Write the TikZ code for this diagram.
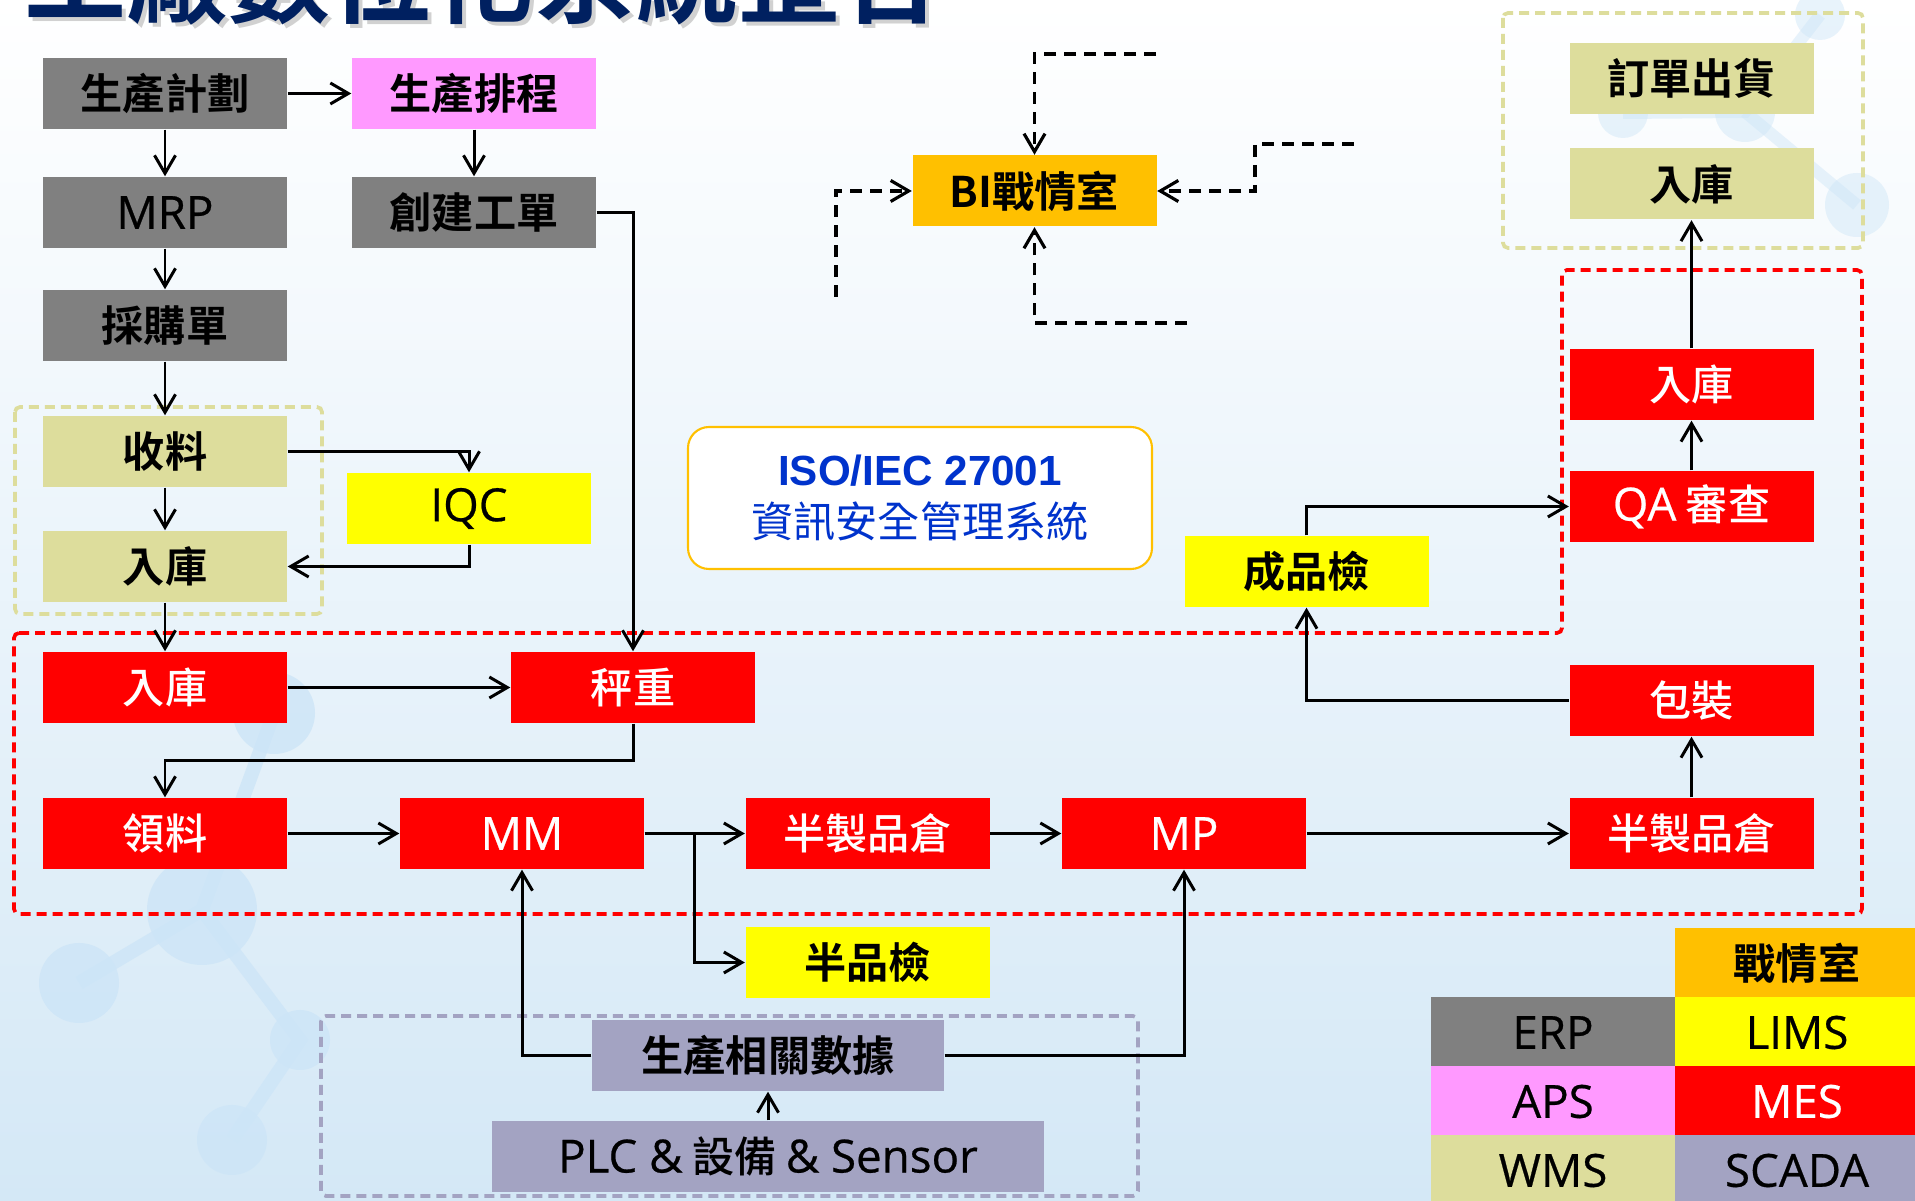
\documentclass[tikz,border=0pt]{standalone}
\usepackage{fontspec}
\usepackage{xcolor}
\setmainfont{Noto Sans CJK TC}[UprightFont={* Medium}, BoldFont={* Bold}]
\newfontfamily\isofont{Liberation Sans}
\newfontfamily\isocjk{Noto Sans CJK TC}
\newfontfamily\engfont{Open Sans}[FakeBold=0.5]
\newcommand{\eng}[1]{{\engfont\fontsize{13}{15}\selectfont #1}}
\usetikzlibrary{arrows.meta}

\definecolor{erpgray}{RGB}{128,128,128}
\definecolor{apspink}{RGB}{255,153,255}
\definecolor{wmskhaki}{RGB}{221,221,156}
\definecolor{limsyellow}{RGB}{255,255,0}
\definecolor{mesred}{RGB}{255,0,0}
\definecolor{biorange}{RGB}{255,192,0}
\definecolor{scadalav}{RGB}{163,163,194}
\definecolor{titlenavy}{RGB}{0,32,96}
\definecolor{isoblue}{RGB}{0,51,204}
\definecolor{bgblue}{RGB}{212,232,246}
\definecolor{molblue}{RGB}{205,229,247}

\begin{document}
\begin{tikzpicture}[
    x=0.1mm, y=-0.1mm,
    >={Straight Barb[length=1.8mm,width=2.1mm]},
    every node/.style={font=\fontsize{12}{15}\selectfont},
    box/.style={minimum width=24.4mm, minimum height=7.1mm, inner sep=0pt, align=center},
    erp/.style={box, fill=erpgray},
    aps/.style={box, fill=apspink},
    wms/.style={box, fill=wmskhaki},
    lims/.style={box, fill=limsyellow},
    mes/.style={box, fill=mesred, text=white},
    scada/.style={box, fill=scadalav},
    bi/.style={box, fill=biorange},
    flow/.style={->, line width=0.85pt},
    bilink/.style={->, line width=0.9pt, dash pattern=on 1.2mm off 0.8mm},
    frame/.style={line width=1.05pt, dash pattern=on 1mm off 0.6mm, rounded corners=0.5mm}
]
\useasboundingbox (0,0) rectangle (1915,1201);
\fill[top color=white, middle color=white, bottom color=bgblue] (0,0) rectangle (1915,1201);

% faint molecules in the background
\begin{scope}[opacity=0.8]
\draw[molblue, line width=1.4mm] (274,713) -- (202,910) -- (79,983);
\draw[molblue, line width=1.4mm] (202,910) -- (300,1040) -- (232,1140);
\foreach \cx/\cy/\r in {274/713/4.1, 202/910/5.5, 79/983/4, 300/1040/3, 232/1140/3.5}
  \fill[molblue] (\cx,\cy) circle (\r mm);
\end{scope}
\begin{scope}[opacity=0.45]
\draw[molblue, line width=1.2mm] (1623,113) -- (1745,112) -- (1820,15);
\draw[molblue, line width=1.2mm] (1745,112) -- (1857,205);
\foreach \cx/\cy/\r in {1820/15/2.5, 1745/112/3, 1857/205/3.2, 1623/113/2.5}
  \fill[molblue] (\cx,\cy) circle (\r mm);
\end{scope}

% title (cut off at the top)
\node[anchor=base west, inner sep=0pt, font=\fontsize{29}{30}\selectfont\bfseries, text=black!18] (titleshadow) at (28,20) {工廠數位化系統整合};
\node[anchor=base west, inner sep=0pt, font=\fontsize{29}{30}\selectfont\bfseries, text=titlenavy] (title) at (24,16) {工廠數位化系統整合};

% system frames
\draw[frame, wmskhaki] (15,407) rectangle (322,614);
\draw[frame, wmskhaki] (1503,13) rectangle (1863,248);
\draw[frame, mesred] (14,633) -- (1562,633) -- (1562,270) -- (1862,270) -- (1862,914) -- (14,914) -- cycle;
\draw[frame, scadalav] (321,1016) rectangle (1138,1196);

% ERP / APS
\node[erp] (plan) at (165,93.5) {\textbf{生產計劃}};
\node[aps] (sched) at (474,93.5) {\textbf{生產排程}};
\node[erp] (mrp) at (165,212.5) {\eng{MRP}};
\node[erp] (order) at (474,212.5) {\textbf{創建工單}};
\node[erp] (po) at (165,325.5) {\textbf{採購單}};

% WMS / LIMS
\node[wms] (recv) at (165,451.5) {\textbf{收料}};
\node[wms] (wmsin) at (165,566.5) {\textbf{入庫}};
\node[lims] (iqc) at (469,508.5) {\eng{IQC}};
\node[wms] (ship) at (1691.5,78.5) {\textbf{訂單出貨}};
\node[wms] (stock) at (1691.5,184) {\textbf{入庫}};

% MES
\node[mes] (mesin) at (165,687.5) {入庫};
\node[mes] (weigh) at (633,687.5) {秤重};
\node[mes] (pick) at (165,833.5) {領料};
\node[mes] (mm) at (522,833.5) {\eng{MM}};
\node[mes] (semi) at (867.5,833.5) {半製品倉};
\node[lims] (semiqc) at (867.5,962.5) {\textbf{半品檢}};
\node[mes] (mp) at (1184,833.5) {\eng{MP}};
\node[mes] (semiout) at (1691.5,833.5) {半製品倉};
\node[mes] (pack) at (1691.5,700.5) {包裝};
\node[lims] (fqc) at (1306.5,571.5) {\textbf{成品檢}};
\node[mes] (qa) at (1691.5,506.5) {\eng{QA} 審查};
\node[mes] (messtock) at (1691.5,384.5) {入庫};

% SCADA and BI
\node[scada, minimum width=35.2mm] (data) at (768,1055.5) {\textbf{生產相關數據}};
\node[scada, minimum width=55.2mm] (plc) at (768,1156.5) {\eng{PLC \&} 設備 \eng{\& Sensor}};
\node[bi] (bi) at (1034.5,191) {\textbf{BI戰情室}};
\node[draw=biorange, fill=white, line width=0.6pt, rounded corners=2.1mm, minimum width=46.4mm, minimum height=14.2mm, align=center, text=isoblue] (iso) at (920,498)
  {{\isofont\bfseries ISO/IEC 27001}\\{\isocjk 資訊安全管理系統}};

% legend
\node[bi, minimum height=7mm] (legbi) at (1797,963.5) {\textbf{戰情室}};
\node[erp, minimum height=7mm] (legerp) at (1553,1032.5) {\eng{ERP}};
\node[lims, minimum height=7mm] (leglims) at (1797,1032.5) {\eng{LIMS}};
\node[aps, minimum height=7mm] (legaps) at (1553,1101.5) {\eng{APS}};
\node[mes, minimum height=7mm] (legmes) at (1797,1101.5) {\eng{MES}};
\node[wms, minimum height=7mm] (legwms) at (1553,1170.5) {\eng{WMS}};
\node[scada, minimum height=7mm] (legscada) at (1797,1170.5) {\eng{SCADA}};

% flows
\draw[flow] (plan) -- (sched);
\draw[flow] (plan) -- (mrp);
\draw[flow] (mrp) -- (po);
\draw[flow] (po) -- (recv);
\draw[flow] (sched) -- (order);
\draw[flow] (order.east) -| (weigh.north);
\draw[flow] (recv) -- (wmsin);
\draw[flow] (recv.east) -| (iqc.north);
\draw[flow] (iqc.south) |- (wmsin.east);
\draw[flow] (wmsin) -- (mesin);
\draw[flow] (mesin) -- (weigh);
\draw[flow] (weigh.south) -- ++(0,37) -| (pick.north);
\draw[flow] (pick) -- (mm);
\draw[flow] (mm) -- (semi);
\draw[flow] (mm.east) -- ++(50,0) |- (semiqc.west);
\draw[flow] (semi) -- (mp);
\draw[flow] (mp) -- (semiout);
\draw[flow] (semiout) -- (pack);
\draw[flow] (pack.west) -| (fqc.south);
\draw[flow] (fqc.north) |- (qa.west);
\draw[flow] (qa) -- (messtock);
\draw[flow] (messtock) -- (stock);
\draw[flow] (data.west) -| (mm.south);
\draw[flow] (data.east) -| (mp.south);
\draw[flow] (plc) -- (data);

% feeds into BI
\coordinate (bitop) at (1156,54);
\coordinate (biright) at (1354,144);
\coordinate (bibottom) at (1187,323);
\coordinate (bileft) at (836,297);
\draw[bilink] (bitop) -| (bi.north);
\draw[bilink] (biright) -- ++(-99,0) |- (bi.east);
\draw[bilink] (bibottom) -| (bi.south);
\draw[bilink] (bileft) |- (bi.west);
\end{tikzpicture}
\end{document}
